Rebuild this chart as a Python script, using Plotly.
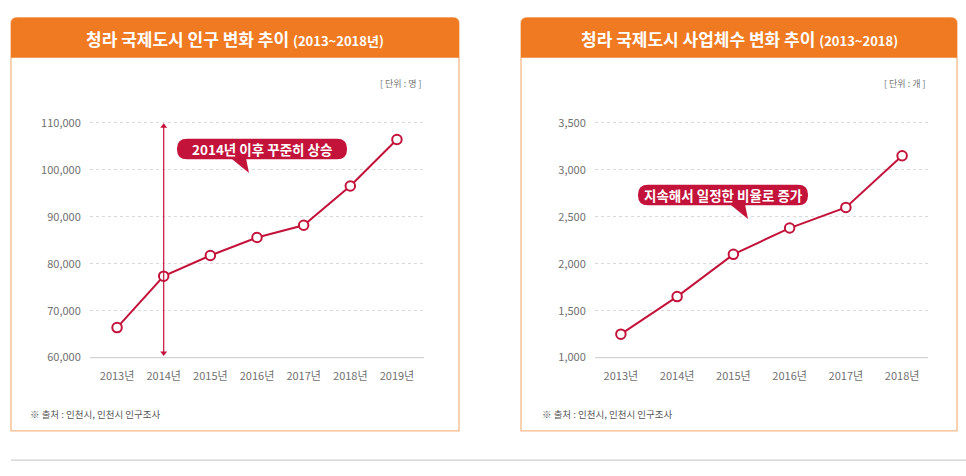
import plotly.graph_objects as go

# data
years_pop = [2013, 2014, 2015, 2016, 2017, 2018, 2019]
year_labels_pop = ["2013년", "2014년", "2015년", "2016년", "2017년", "2018년", "2019년"]
population = [66400, 77350, 81750, 85600, 88200, 96550, 106450]
pop_ticks = [60000, 70000, 80000, 90000, 100000, 110000]

years_biz = [2013, 2014, 2015, 2016, 2017, 2018]
year_labels_biz = ["2013년", "2014년", "2015년", "2016년", "2017년", "2018년"]
businesses = [1250, 1650, 2100, 2380, 2600, 3150]
biz_ticks = [1000, 1500, 2000, 2500, 3000, 3500]

# highlighted year arrow on the left chart
arrow_year = 2014
arrow_span = [109300, 61000]

W, H = 966, 476
RED = "#c3133a"
ORANGE = "#f07a22"
BORDER = "#f5b989"
FONT = "Noto Sans CJK KR"


def px(x):
    return x / W


def py(y):
    return 1 - y / H


def panel_path(x0, y0, x1, y1, r=6):
    return (f"M {px(x0)},{py(y1)} L {px(x0)},{py(y0 + r)} "
            f"Q {px(x0)},{py(y0)} {px(x0 + r)},{py(y0)} "
            f"L {px(x1 - r)},{py(y0)} Q {px(x1)},{py(y0)} {px(x1)},{py(y0 + r)} "
            f"L {px(x1)},{py(y1)} Z")


def pill_path(x0, y0, x1, y1, r=9):
    return (f"M {px(x0 + r)},{py(y0)} L {px(x1 - r)},{py(y0)} "
            f"Q {px(x1)},{py(y0)} {px(x1)},{py(y0 + r)} "
            f"L {px(x1)},{py(y1 - r)} Q {px(x1)},{py(y1)} {px(x1 - r)},{py(y1)} "
            f"L {px(x0 + r)},{py(y1)} Q {px(x0)},{py(y1)} {px(x0)},{py(y1 - r)} "
            f"L {px(x0)},{py(y0 + r)} Q {px(x0)},{py(y0)} {px(x0 + r)},{py(y0)} Z")


def tri_path(pts):
    p = " L ".join(f"{px(a)},{py(b)}" for a, b in pts)
    return f"M {p} Z"


fig = go.Figure()

# population line
fig.add_trace(go.Scatter(x=years_pop, y=population, mode="lines+markers",
                         line=dict(color=RED, width=2),
                         marker=dict(size=9.5, color="white", line=dict(color=RED, width=2)),
                         xaxis="x", yaxis="y", showlegend=False, hoverinfo="skip"))

# vertical double arrow at 2014
fig.add_trace(go.Scatter(x=[arrow_year, arrow_year], y=arrow_span, mode="lines+markers",
                         line=dict(color=RED, width=1.2),
                         marker=dict(symbol=["triangle-up", "triangle-down"], size=6, color=RED),
                         xaxis="x", yaxis="y", showlegend=False, hoverinfo="skip"))

# business count line
fig.add_trace(go.Scatter(x=years_biz, y=businesses, mode="lines+markers",
                         line=dict(color=RED, width=2),
                         marker=dict(size=9.5, color="white", line=dict(color=RED, width=2)),
                         xaxis="x2", yaxis="y2", showlegend=False, hoverinfo="skip"))

tickfont = dict(family=FONT, size=11, color="#707070")
xcommon = dict(showgrid=False, zeroline=False, showline=False, ticks="outside",
               ticklen=8, tickcolor="rgba(0,0,0,0)", tickfont=tickfont, fixedrange=True)
ycommon = dict(showgrid=True, gridcolor="#d9d9d9", griddash="dot", gridwidth=1,
               zeroline=False, showline=False, ticks="outside", ticklen=6,
               tickcolor="rgba(0,0,0,0)", tickfont=tickfont, tickformat=",", fixedrange=True)

fig.update_layout(
    width=W, height=H,
    margin=dict(l=0, r=0, t=0, b=0),
    paper_bgcolor="white", plot_bgcolor="rgba(0,0,0,0)",
    font=dict(family=FONT),
    xaxis=dict(domain=[px(90), px(424)], range=[2012.42, 2019.58],
               tickvals=years_pop, ticktext=year_labels_pop, anchor="y", **xcommon),
    yaxis=dict(domain=[py(362), py(116.9)], range=[60000, 111000],
               tickvals=pop_ticks, anchor="x", **ycommon),
    xaxis2=dict(domain=[px(595), px(928)], range=[2012.54, 2018.46],
                tickvals=years_biz, ticktext=year_labels_biz, anchor="y2", **xcommon),
    yaxis2=dict(domain=[py(362), py(116.9)], range=[1000, 3550],
                tickvals=biz_ticks, anchor="x2", **ycommon),
)

shapes = []
for x0, x1, gx0, gx1 in [(11, 459, 90, 424), (521, 957, 595, 928)]:
    # panel border and orange header
    shapes.append(dict(type="path", path=panel_path(x0, 14, x1, 437), xref="paper", yref="paper",
                       line=dict(color=BORDER, width=1.3), fillcolor="white", layer="below"))
    shapes.append(dict(type="path", path=panel_path(x0, 14, x1, 55), xref="paper", yref="paper",
                       line=dict(width=0), fillcolor=ORANGE, layer="below"))
    # baseline
    shapes.append(dict(type="line", x0=px(gx0), x1=px(gx1), y0=py(362), y1=py(362),
                       xref="paper", yref="paper", line=dict(color="#d4d4d4", width=1.2)))

# bottom separator
shapes.append(dict(type="line", x0=px(11), x1=1, y0=py(467), y1=py(467),
                   xref="paper", yref="paper", line=dict(color="#cfcfcf", width=1.2)))

# callouts
shapes.append(dict(type="path", path=pill_path(177, 138, 347, 159, 10), xref="paper", yref="paper",
                   line=dict(width=0), fillcolor=RED))
shapes.append(dict(type="path", path=tri_path([(231, 158), (246, 158), (249, 173)]),
                   xref="paper", yref="paper", line=dict(width=0), fillcolor=RED))
shapes.append(dict(type="path", path=pill_path(638, 185, 808, 206, 10), xref="paper", yref="paper",
                   line=dict(width=0), fillcolor=RED))
shapes.append(dict(type="path", path=tri_path([(730, 205), (745, 205), (748, 220)]),
                   xref="paper", yref="paper", line=dict(width=0), fillcolor=RED))
fig.update_layout(shapes=shapes)


def note(x, y, text, size, color, xanchor="center", bold=False):
    fig.add_annotation(x=px(x), y=py(y), xref="paper", yref="paper", text=text,
                       showarrow=False, xanchor=xanchor, yanchor="middle",
                       font=dict(family=FONT, size=size, color=color,
                                 weight="bold" if bold else "normal"))


note(235, 35, "청라 국제도시 인구 변화 추이 <span style='font-size:13px'>(2013~2018년)</span>",
     17, "white", bold=True)
note(739, 35, "청라 국제도시 사업체수 변화 추이 <span style='font-size:13px'>(2013~2018)</span>",
     17, "white", bold=True)
note(424, 81, "[ 단위 : 명 ]", 9, "#777777", xanchor="right")
note(928, 81, "[ 단위 : 개 ]", 9, "#777777", xanchor="right")
note(28, 420, "※ 출처 : 인천시, 인천시 인구조사", 9.5, "#555555", xanchor="left")
note(540, 420, "※ 출처 : 인천시, 인천시 인구조사", 9.5, "#555555", xanchor="left")
note(262, 148.5, "2014년 이후 꾸준히 상승", 13.5, "white", bold=True)
note(723, 195.5, "지속해서 일정한 비율로 증가", 13.5, "white", bold=True)

fig.write_html("out.html", config={"displayModeBar": False},
               post_script="document.body.style.margin='0';")
